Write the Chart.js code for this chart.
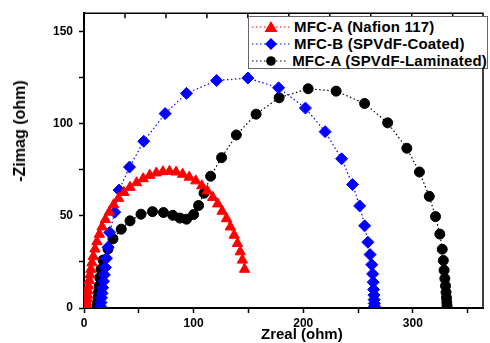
<!DOCTYPE html>
<html>
<head>
<meta charset="utf-8">
<script src="https://cdn.jsdelivr.net/npm/chart.js@4.4.1/dist/chart.umd.min.js"></script>
<style>
  body { margin: 0; background: #fff; }
  #wrap { position: relative; width: 490px; height: 343px; font-family: Arial, "Liberation Sans", sans-serif; }
  #legend { position: absolute; left: 248px; top: 16px; width: 240px; height: 53px; border: 1px solid #666; background: #fff; box-sizing: border-box; padding-top: 1px; }
  .row { height: 17px; display: flex; align-items: center; font-weight: bold; font-size: 15px; letter-spacing: 0.2px; color: #000; white-space: nowrap; }
  .row svg { margin-left: 3px; margin-right: 4px; }
  #xtitle { position: absolute; left: 261px; top: 325px; font-weight: bold; font-size: 15px; }
  #ytitle { position: absolute; left: 20px; top: 131px; font-weight: bold; font-size: 16px; transform: translate(-50%, -50%) rotate(-90deg); white-space: nowrap; }
</style>
</head>
<body>
<div id="wrap">
  <canvas id="chart" width="490" height="343"></canvas>
  <div id="legend"></div>
  <div id="xtitle">Zreal (ohm)</div>
  <div id="ytitle">-Zimag (ohm)</div>
</div>
<script>
// series names as in the legend
var seriesNames = ["MFC-A (Nafion 117)", "MFC-B (SPVdF-Coated)", "MFC-A (SPVdF-Laminated)"];

// Zreal / -Zimag (ohm)
var nafionX = [2, 2.2, 2.5, 2.8, 3.2, 3.6, 4.2, 4.8, 5.5, 6.3, 7.3, 8.5, 10, 11.8, 14, 16.5, 19.5, 23, 27, 31.5, 36.5, 42, 48, 54, 60, 66, 72, 78, 84, 90, 96, 102, 107.5, 112.5, 117.5, 122, 126, 130, 133.5, 137, 140, 142.5, 144.5, 146.5];
var nafionY = [0.5, 1.5, 3, 5, 7, 9.5, 12, 15, 18, 21, 24.5, 28, 32, 36, 40, 44, 48, 52, 56, 59.5, 62.7, 65.5, 68, 70.2, 72, 73.3, 74, 74.2, 73.8, 72.6, 71, 69, 66.3, 63.5, 60, 56.5, 52.5, 48.5, 44, 39.5, 35, 30.5, 26, 21];

var coatedX = [15, 15.5, 16, 16.5, 17, 17.8, 18.6, 19.5, 20.5, 22, 23.5, 28, 32, 41.5, 54.5, 74, 93.5, 121, 149.5, 177.5, 202, 220, 235, 245, 251.5, 256, 259, 261, 262.5, 263.3, 263.8, 264.2, 264.5, 264.7, 264.8, 265];
var coatedY = [1, 3, 5.5, 8, 11, 14.5, 18, 22, 27, 33, 41, 52, 64, 76.5, 90.5, 105.5, 116.5, 123.5, 124.8, 119.5, 108.5, 95.7, 81, 67, 55.4, 44.6, 35.7, 29, 23.5, 18.5, 14, 10, 7, 4.5, 2.5, 1];

var laminatedX = [12, 12.3, 12.7, 13.2, 13.8, 14.4, 15.5, 17.4, 21.9, 26.4, 34, 42, 52, 62.5, 72.5, 81, 87.5, 93.5, 100, 104.5, 109.5, 115.5, 125.5, 139, 157, 178, 204.5, 230, 256, 277, 294.5, 306, 315, 320.7, 324.6, 326.8, 327.8, 328.5, 329.2, 329.8, 330.3, 330.7, 331, 331.2];
var laminatedY = [1, 3, 5.5, 8.5, 12, 16.5, 21, 26, 32, 37.5, 42.8, 47.3, 50.9, 52.3, 51.8, 50.3, 48.8, 48.2, 50.7, 55.6, 62.3, 71.5, 81.6, 93.9, 105.2, 114.1, 119, 117.7, 111, 100.5, 86.7, 73.8, 60.6, 49.6, 40.1, 31.9, 25.8, 20.5, 16, 12, 8.5, 5.5, 3, 1];

var colors = ["#ff0000", "#0000ff", "#000000"];
var styles = ["triangle", "rectRot", "circle"];
var radii = [6, 6, 5];

function pts(xs, ys) {
  return xs.map(function (x, i) { return { x: x, y: ys[i] }; });
}
var allData = [pts(nafionX, nafionY), pts(coatedX, coatedY), pts(laminatedX, laminatedY)];

var datasets = allData.map(function (d, i) {
  return {
    label: seriesNames[i],
    data: d,
    showLine: true,
    borderColor: colors[i],
    borderWidth: 1.2,
    borderDash: [1.5, 2.5],
    backgroundColor: colors[i],
    pointBackgroundColor: colors[i],
    pointBorderColor: colors[i],
    pointBorderWidth: 1,
    pointStyle: styles[i],
    pointRadius: radii[i],
    tension: 0
  };
});

// box round the plot plus small inward ticks on top
var frame = {
  id: 'frame',
  afterDraw: function (chart) {
    var a = chart.chartArea, c = chart.ctx;
    c.save();
    c.strokeStyle = '#000';
    c.lineWidth = 1.5;
    c.beginPath();
    c.moveTo(a.left, a.top);
    c.lineTo(a.right, a.top);
    c.lineTo(a.right, a.bottom);
    c.stroke();
    var step = (a.right - a.left) / 9.74;
    for (var i = 1; i < 10; i++) {
      var x = a.left + i * step;
      c.beginPath();
      c.moveTo(x, a.top);
      c.lineTo(x, a.top + 5);
      c.stroke();
    }
    c.restore();
  }
};

var tickFont = { family: 'Arial, "Liberation Sans", sans-serif', size: 12, weight: 'bold' };

new Chart(document.getElementById('chart').getContext('2d'), {
  type: 'scatter',
  data: { datasets: datasets },
  options: {
    responsive: false,
    animation: false,
    layout: { padding: { top: 11, right: 2, left: 0, bottom: 0 } },
    plugins: { legend: { display: false }, tooltip: { enabled: false } },
    scales: {
      x: {
        type: 'linear',
        min: 0,
        max: 364,
        afterFit: function (s) { s.height = 35; },
        border: { display: true, color: '#000', width: 2 },
        grid: { drawOnChartArea: false, drawTicks: true, tickLength: 5, color: '#000', tickWidth: 1.5 },
        ticks: {
          stepSize: 50,
          includeBounds: false,
          autoSkip: false,
          maxRotation: 0,
          padding: 3,
          color: '#000',
          font: tickFont,
          callback: function (v) { return v % 100 === 0 ? v : ''; }
        }
      },
      y: {
        min: 0,
        max: 160,
        afterFit: function (s) { s.width = 84; },
        border: { display: true, color: '#000', width: 2 },
        grid: { drawOnChartArea: false, drawTicks: true, tickLength: 5, color: '#000', tickWidth: 1.5 },
        ticks: {
          stepSize: 25,
          includeBounds: false,
          autoSkip: false,
          padding: 6,
          color: '#000',
          font: tickFont,
          callback: function (v) { return v % 50 === 0 ? v : ''; }
        }
      }
    }
  },
  plugins: [frame]
});

// legend: dotted line sample with marker, then the name
var legend = document.getElementById('legend');
seriesNames.forEach(function (name, i) {
  var m;
  if (styles[i] === 'triangle') m = '<polygon points="19,0 25.5,11 12.5,11" fill="' + colors[i] + '"/>';
  else if (styles[i] === 'rectRot') m = '<polygon points="19,0 25,6 19,12 13,6" fill="' + colors[i] + '"/>';
  else m = '<circle cx="19" cy="6" r="4.8" fill="' + colors[i] + '"/>';
  var row = document.createElement('div');
  row.className = 'row';
  row.innerHTML = '<svg width="38" height="12"><line x1="0" y1="6" x2="38" y2="6" stroke="' + colors[i] +
    '" stroke-width="1" stroke-dasharray="1.5 2.5"/>' + m + '</svg>' + name;
  legend.appendChild(row);
});
</script>
</body>
</html>
